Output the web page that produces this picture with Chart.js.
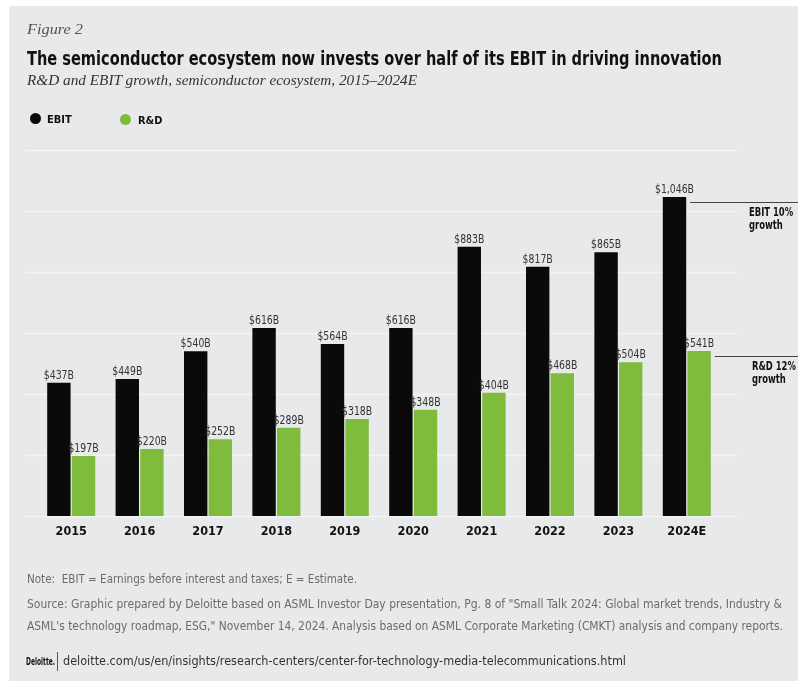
<!DOCTYPE html>
<html>
<head>
<meta charset="utf-8">
<script src="https://cdn.jsdelivr.net/npm/chart.js@4.4.1/dist/chart.umd.min.js"></script>
<style>
  body { margin: 0; width: 804px; height: 681px; overflow: hidden; position: relative; background: #fff;
         font-family: "Liberation Sans Narrow", "DejaVu Sans Condensed", sans-serif; }
  #panel { position: absolute; left: 9px; top: 6px; width: 789px; height: 675px; background: #e8e9eb; }
  canvas { position: absolute; left: 0; top: 0; }
  .t { position: absolute; white-space: nowrap; line-height: 1; transform-origin: 0 50%; }
  .serif { font-family: "Liberation Serif", "DejaVu Serif", serif; font-style: italic; }
  .dot { position: absolute; width: 11px; height: 11px; border-radius: 50%; }
</style>
</head>
<body>
<div id="panel"></div>
<canvas id="chart" width="804" height="681"></canvas>

<div class="t serif" data-w="56" style="left:27px;top:22px;font-size:15px;color:#555">Figure 2</div>
<div class="t" data-w="695" style="left:27px;top:48px;font-size:20px;font-weight:bold;color:#111">The semiconductor ecosystem now invests over half of its EBIT in driving innovation</div>
<div class="t serif" data-w="390" style="left:27px;top:73px;font-size:15px;color:#333">R&amp;D and EBIT growth, semiconductor ecosystem, 2015–2024E</div>

<div class="dot" style="left:30px;top:113px;background:#0a0a0a"></div>
<div class="t" style="left:47px;top:114px;font-size:11px;font-weight:bold;color:#111">EBIT</div>
<div class="dot" style="left:120px;top:114px;background:#7fbb3c"></div>
<div class="t" style="left:138px;top:115px;font-size:11px;font-weight:bold;color:#111">R&amp;D</div>

<div class="t" data-w="330" style="left:27px;top:573px;font-size:12.5px;color:#6b6b6b">Note:&nbsp; EBIT = Earnings before interest and taxes; E = Estimate.</div>
<div class="t" data-w="755" style="left:27px;top:598px;font-size:12.5px;color:#6b6b6b">Source: Graphic prepared by Deloitte based on ASML Investor Day presentation, Pg. 8 of "Small Talk 2024: Global market trends, Industry &amp;</div>
<div class="t" data-w="756" style="left:27px;top:620px;font-size:12.5px;color:#6b6b6b">ASML's technology roadmap, ESG," November 14, 2024. Analysis based on ASML Corporate Marketing (CMKT) analysis and company reports.</div>
<div class="t" data-w="29" style="left:26px;top:656px;font-size:11px;font-weight:bold;color:#111">Deloitte.</div>
<div style="position:absolute;left:57px;top:652px;width:1px;height:19px;background:#555"></div>
<div class="t" data-w="563" style="left:63px;top:655px;font-size:12.5px;color:#333">deloitte.com/us/en/insights/research-centers/center-for-technology-media-telecommunications.html</div>

<script>
const years = ["2015", "2016", "2017", "2018", "2019", "2020", "2021", "2022", "2023", "2024E"];
const ebit = [437, 449, 540, 616, 564, 616, 883, 817, 865, 1046];
const rnd = [197, 220, 252, 289, 318, 348, 404, 468, 504, 541];
const yTicks = [0, 200, 400, 600, 800, 1000, 1200];
const growthNotes = [["EBIT 10%", "growth"], ["R&D 12%", "growth"]];

const narrow = '"Liberation Sans Narrow", "DejaVu Sans Condensed", sans-serif';

function money(v) {
  return "$" + v.toLocaleString("en-US") + "B";
}

// draw text squeezed horizontally (the figure uses a condensed face)
function squeezed(ctx, text, x, y, sx, align) {
  const w = ctx.measureText(text).width * sx;
  let left = x;
  if (align === "center") left = x - w / 2;
  ctx.save();
  ctx.translate(left, y);
  ctx.scale(sx, 1);
  ctx.textAlign = "left";
  ctx.fillText(text, 0, 0);
  ctx.restore();
}

// horizontal guide lines, a bit wider than the bar area
const guides = {
  id: "guides",
  beforeDatasetsDraw(chart) {
    const ctx = chart.ctx;
    const y = chart.scales.y;
    ctx.save();
    ctx.strokeStyle = "#f4f5f6";
    ctx.lineWidth = 1.5;
    yTicks.forEach(function (t) {
      const py = Math.round(y.getPixelForValue(t)) + 0.5;
      ctx.beginPath();
      ctx.moveTo(25, py);
      ctx.lineTo(737, py);
      ctx.stroke();
    });
    ctx.restore();
  },
};

const valueLabels = {
  id: "valueLabels",
  afterDatasetsDraw(chart) {
    const ctx = chart.ctx;
    ctx.save();
    ctx.font = "12.5px " + narrow;
    ctx.fillStyle = "#333";
    ctx.textBaseline = "alphabetic";
    chart.data.datasets.forEach(function (ds, i) {
      chart.getDatasetMeta(i).data.forEach(function (bar, j) {
        squeezed(ctx, money(ds.data[j]), bar.x, bar.y - 4, 0.83, "center");
      });
    });

    // growth call-outs next to the last pair of bars
    const last = years.length - 1;
    ctx.strokeStyle = "#444";
    ctx.lineWidth = 1;
    ctx.fillStyle = "#111";
    ctx.font = "bold 12px " + narrow;
    chart.data.datasets.forEach(function (ds, i) {
      const bar = chart.getDatasetMeta(i).data[last];
      const py = Math.round(bar.y + 5) + 0.5;
      ctx.beginPath();
      ctx.moveTo(bar.x + bar.width / 2 + 4, py);
      ctx.lineTo(798, py);
      ctx.stroke();
      const tx = i === 0 ? 749 : 752;
      squeezed(ctx, growthNotes[i][0], tx, py + 13, 0.78, "left");
      squeezed(ctx, growthNotes[i][1], tx, py + 26, 0.78, "left");
    });
    ctx.restore();
  },
};

new Chart(document.getElementById("chart"), {
  type: "bar",
  data: {
    labels: years,
    datasets: [
      { label: "EBIT", data: ebit, backgroundColor: "#0a0a0a" },
      { label: "R&D", data: rnd, backgroundColor: "#7fbb3c" },
    ],
  },
  options: {
    responsive: false,
    animation: false,
    layout: { padding: { left: 37, right: 83, top: 150, bottom: 134 } },
    datasets: { bar: { categoryPercentage: 0.72, barPercentage: 0.95 } },
    plugins: { legend: { display: false }, tooltip: { enabled: false } },
    scales: {
      x: {
        grid: { display: false, drawTicks: false },
        border: { display: false },
        ticks: { color: "#111", padding: 8, font: { family: narrow, size: 12.5, weight: "bold" } },
      },
      y: { display: false, min: 0, max: 1200 },
    },
  },
  plugins: [guides, valueLabels],
});

// squeeze long text lines to the widths seen in the figure
document.querySelectorAll(".t[data-w]").forEach(function (el) {
  const w = el.getBoundingClientRect().width;
  el.style.transform = "scaleX(" + (+el.dataset.w / w) + ")";
});
</script>
</body>
</html>
